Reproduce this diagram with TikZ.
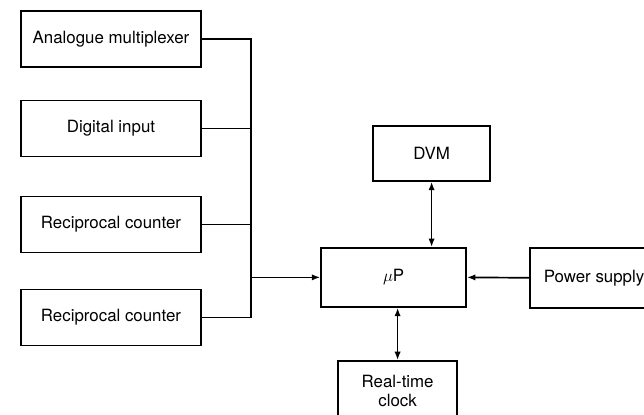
\documentclass[tikz,border=0pt]{standalone}
\usepackage{fontspec}
\setmainfont{TeX Gyre Heros}
\usetikzlibrary{arrows.meta}
\begin{document}
\begin{tikzpicture}[block/.style={rectangle, draw=black, inner sep=0pt, minimum height=1.4cm, align=center, font=\fontsize{12}{13}\selectfont}, >={Latex[length=6pt, width=4.5pt]}, line width=1.2pt]
\useasboundingbox (0, 0) rectangle (16.1, 10.375);
\clip (0, 0) rectangle (16.1, 10.375);

\node[block, minimum width=4.5cm] (src-0) at (2.775, 9.4) {Analogue multiplexer};
\node[block, minimum width=4.5cm] (src-1) at (2.775, 7.16) {Digital input};
\node[block, minimum width=4.5cm] (src-2) at (2.775, 4.76) {Reciprocal counter};
\node[block, minimum width=4.5cm] (src-3) at (2.775, 2.44) {Reciprocal counter};

\node[block, minimum width=3.625cm, minimum height=1.475cm] (up) at (9.84, 3.44) {$\mu$P};
\node[block, minimum width=2.925cm, minimum height=1.375cm] (dvm) at (10.79, 6.54) {DVM};
\node[block, minimum width=2.975cm, minimum height=1.5cm] (rtc) at (9.94, 0.6) {Real-time\\clock};
\node[block, minimum width=3.2cm, minimum height=1.5cm] (psu) at (14.85, 3.43) {Power supply};

% input bus
\coordinate (bus) at (6.275, 3.44);
\draw (src-0.east) -| (bus);
\draw (src-3.east) -| (bus);
\draw (src-1.east) -- (src-1.east -| bus);
\draw (src-2.east) -- (src-2.east -| bus);
\draw[->] (bus) -- (up.west);

\draw[<->] (dvm.south) -- (dvm.south |- up.north);
\draw[<->] (rtc.north) -- (rtc.north |- up.south);
\draw[->] (psu.west) -- (up.east);
\end{tikzpicture}
\end{document}
